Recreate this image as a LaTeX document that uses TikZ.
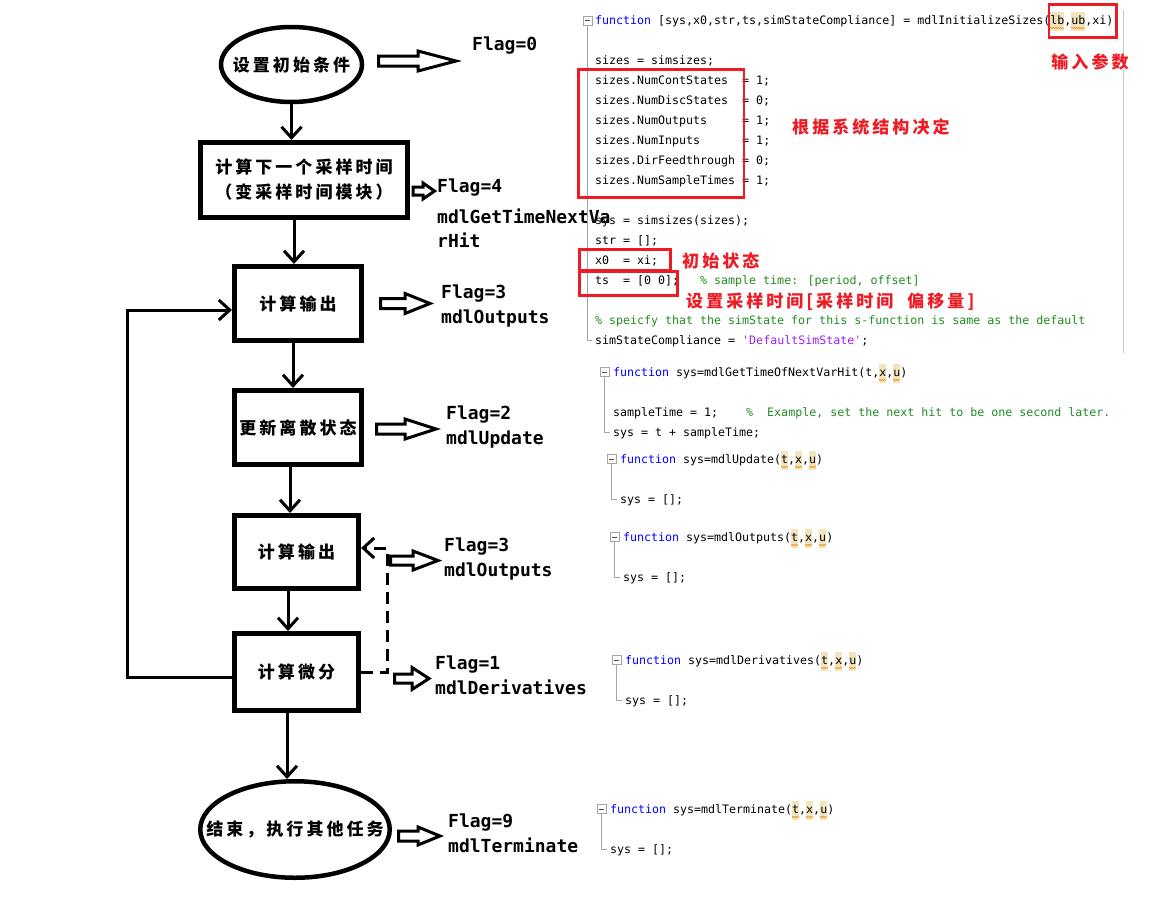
\documentclass[tikz,border=0pt]{standalone}
\usepackage{fontspec}
\usetikzlibrary{arrows.meta,shapes.geometric,decorations.pathmorphing}
\newfontfamily\cjk[LetterSpace=18]{Noto Sans CJK SC}
\newfontfamily\codefont{DejaVu Sans Mono}
\newfontfamily\flagfont{DejaVu Sans Mono}
\definecolor{kwblue}{RGB}{0,0,255}
\definecolor{cmtgreen}{RGB}{34,139,34}
\definecolor{strpurple}{RGB}{160,32,240}
\definecolor{hltan}{RGB}{240,229,190}
\definecolor{markred}{RGB}{237,28,36}
\definecolor{foldgray}{RGB}{165,165,165}
\newcommand{\kw}[1]{\textcolor{kwblue}{#1}}
\newcommand{\cmt}[1]{\textcolor{cmtgreen}{#1}}
\newcommand{\strg}[1]{\textcolor{strpurple}{#1}}
\newcommand{\hlbox}[4]{\fill[hltan] (#1+7*#2,#4-8.5) rectangle ++(7*#3,19);
  \draw[squig] (#1+7*#2,#4+8) -- ++(7*#3,0);}
\newcommand{\fold}[4]{\draw[foldline] (#1-4.5,#2-4.5) rectangle (#1+4.5,#2+4.5);
  \draw[foldline, black!70] (#1-2.5,#2) -- (#1+2.5,#2);
  \draw[foldline] (#1,#2+4.5) -- (#1,#3) -- (#4,#3);}
\tikzset{
  stage/.style={draw, rectangle, line width=5pt, inner sep=0pt, align=center, font=\cjk\bfseries\fontsize{17}{25}\selectfont},
  bound/.style={draw, ellipse, line width=4.5pt, inner sep=0pt},
  boundtext/.style={inner sep=0pt, font=\cjk\bfseries\fontsize{17}{25}\selectfont},
  flow/.style={line width=3pt, -{Straight Barb[length=11pt,width=20pt]}},
  dashflow/.style={flow, dash pattern=on 12pt off 7pt},
  fat/.style={draw, line width=3pt, line join=miter},
  flag/.style={anchor=base west, inner sep=0pt, font=\flagfont\bfseries\fontsize{18}{25}\selectfont},
  codeline/.style={anchor=base west, inner sep=0pt, font=\codefont\fontsize{11.63}{20}\selectfont},
  redbox/.style={draw=markred, line width=2.5pt},
  note/.style={anchor=west, inner sep=0pt, text=markred, font=\cjk\bfseries\fontsize{17}{20}\selectfont},
  squig/.style={draw=orange, line width=0.6pt, decorate, decoration={snake, amplitude=0.6pt, segment length=2.5pt}},
  foldline/.style={draw=foldgray, line width=0.8pt}
}
\begin{document}
\begin{tikzpicture}[x=1pt, y=-1pt]
\fill[white] (0,0) rectangle (1159,916);
\useasboundingbox (0,0) rectangle (1159,916);

\node[bound, minimum width=141pt, minimum height=75pt] (init) at (291.5,64.5) {};
\node[boundtext] (inittext) at (init) {设置初始条件};
\node[stage, minimum width=207pt, minimum height=75pt] (nexthit) at (304,180) {计算下一个采样时间\\（变采样时间模块）};
\node[stage, minimum width=127pt, minimum height=74pt] (outa) at (298,303.5) {计算输出};
\node[stage, minimum width=127pt, minimum height=74pt] (update) at (298,427.5) {更新离散状态};
\node[stage, minimum width=124pt, minimum height=73pt] (outb) at (296.5,552) {计算输出};
\node[stage, minimum width=124pt, minimum height=77pt] (deriv) at (296.5,672) {计算微分};
\node[bound, minimum width=189.5pt, minimum height=96.5pt] (term) at (295,829.5) {};
\node[boundtext] (termtext) at (term) {结束，执行其他任务};

\coordinate (outaIn) at ([xshift=-4pt]outa.north);
\coordinate (updIn) at ([xshift=-5pt]update.north);
\coordinate (outbIn) at ([xshift=-6.5pt]outb.north);
\coordinate (derIn) at ([xshift=-8.5pt]deriv.north);
\coordinate (termIn) at ([xshift=-8pt]term.north);
\draw[flow] (init.south) -- (init.south |- nexthit.north);
\draw[flow] (nexthit.south -| outaIn) -- (outaIn);
\draw[flow] (outa.south -| updIn) -- (updIn);
\draw[flow] (update.south -| outbIn) -- (outbIn);
\draw[flow] (outb.south -| derIn) -- (derIn);
\draw[flow] (deriv.south -| termIn) -- (termIn);
\draw[flow] ([yshift=-5pt]deriv.west) -- ++(-104.5,0) |- ([yshift=-6.5pt]outa.west);
\draw[dashflow] (deriv.east) -- ++(26.5,0) |- ([yshift=4pt]outb.east);

\foreach \xa/\xb/\xc/\yy/\bh/\hh in {378.5/418/456/61/5/10, 413/423/434.5/191/4/8,
  380.5/405/430/303.5/5/10, 376.5/405/436/429/5/10, 390.5/413/438/560.5/4.5/9.5,
  394.5/412/429/678.5/4.5/11, 398.5/418/440/836/5/9}
  \draw[fat] (\xa,\yy-\bh) -- (\xb,\yy-\bh) -- (\xb,\yy-\hh) -- (\xc,\yy) -- (\xb,\yy+\hh) -- (\xb,\yy+\bh) -- (\xa,\yy+\bh) -- cycle;

\node[flag] (flag0) at (472,50) {Flag=0};
\node[flag] (flag4) at (437,192) {Flag=4};
\node[flag] (name4a) at (437,223) {mdlGetTimeNextVa};
\node[flag] (name4b) at (437,247) {rHit};
\node[flag] (flag3a) at (441,298) {Flag=3};
\node[flag] (name3a) at (441,323) {mdlOutputs};
\node[flag] (flag2) at (446,419) {Flag=2};
\node[flag] (name2) at (446,444) {mdlUpdate};
\node[flag] (flag3b) at (444,551) {Flag=3};
\node[flag] (name3b) at (444,576) {mdlOutputs};
\node[flag] (flag1) at (435,669) {Flag=1};
\node[flag] (name1) at (435,694) {mdlDerivatives};
\node[flag] (flag9) at (448,827) {Flag=9};
\node[flag] (name9) at (448,852) {mdlTerminate};

\hlbox{595}{65}{2}{20} \hlbox{595}{68}{2}{20}
\hlbox{613}{38}{1}{372} \hlbox{613}{40}{1}{372}
\foreach \c in {23,25,27} {\hlbox{620}{\c}{1}{459}}
\foreach \c in {24,26,28} {\hlbox{623}{\c}{1}{537}}
\foreach \c in {28,30,32} {\hlbox{625}{\c}{1}{660}}
\foreach \c in {26,28,30} {\hlbox{610}{\c}{1}{809}}

\fold{587.5}{20.5}{340}{592}
\fold{604.5}{372}{432}{610}
\fold{611.5}{459}{499}{617}
\fold{614.5}{537}{577}{620}
\fold{616.5}{660}{700}{622}
\fold{601.5}{809}{849}{607}
\draw[foldline, foldgray!60] (1123,10) -- (1123,353);

\foreach \yy/\txt [count=\i] in {
  20/{\kw{function} [sys,x0,str,ts,simStateCompliance] = mdlInitializeSizes(lb,ub,xi)},
  60/{sizes = simsizes;},
  80/{sizes.NumContStates\ \ = 1;},
  100/{sizes.NumDiscStates\ \ = 0;},
  120/{sizes.NumOutputs\ \ \ \ \ = 1;},
  140/{sizes.NumInputs\ \ \ \ \ \ = 1;},
  160/{sizes.DirFeedthrough = 0;},
  180/{sizes.NumSampleTimes = 1;},
  220/{sys = simsizes(sizes);},
  240/{str = [];},
  260/{x0\ \ = xi;},
  280/{ts\ \ = [0 0];\ \ \ \cmt{\% sample time: [period, offset]}},
  320/{\cmt{\% speicfy that the simState for this s-function is same as the default}},
  340/{simStateCompliance = \strg{'DefaultSimState'};}}
  \node[codeline] (initcode\i) at (595,\yy+4.5) {\txt};

\node[codeline] (hitcode1) at (613,376.5) {\kw{function} sys=mdlGetTimeOfNextVarHit(t,x,u)};
\node[codeline] (hitcode2) at (613,416.5) {sampleTime = 1;\ \ \ \ \cmt{\%\ \ Example, set the next hit to be one second later.}};
\node[codeline] (hitcode3) at (613,436.5) {sys = t + sampleTime;};
\node[codeline] (updcode1) at (620,463.5) {\kw{function} sys=mdlUpdate(t,x,u)};
\node[codeline] (updcode2) at (620,503.5) {sys = [];};
\node[codeline] (outcode1) at (623,541.5) {\kw{function} sys=mdlOutputs(t,x,u)};
\node[codeline] (outcode2) at (623,581.5) {sys = [];};
\node[codeline] (dercode1) at (625,664.5) {\kw{function} sys=mdlDerivatives(t,x,u)};
\node[codeline] (dercode2) at (625,704.5) {sys = [];};
\node[codeline] (endcode1) at (610,813.5) {\kw{function} sys=mdlTerminate(t,x,u)};
\node[codeline] (endcode2) at (610,853.5) {sys = [];};

\draw[redbox] (1049,4.5) rectangle (1116.5,37.5);
\draw[redbox] (578.5,69.5) rectangle (744,197.5);
\draw[redbox] (579.5,249.5) rectangle (670.5,270);
\draw[redbox] (579.5,271.5) rectangle (677.5,295.5);
\node[note, anchor=center] (inputnote) at (1090,62) {输入参数};
\node[note] (sizenote) at (792,127) {根据系统结构决定};
\node[note] (statenote) at (682,261) {初始状态};
\node[note] (timenote) at (686,302) {设置采样时间\,[采样时间\hspace{14pt}偏移量]};
\end{tikzpicture}
\end{document}
